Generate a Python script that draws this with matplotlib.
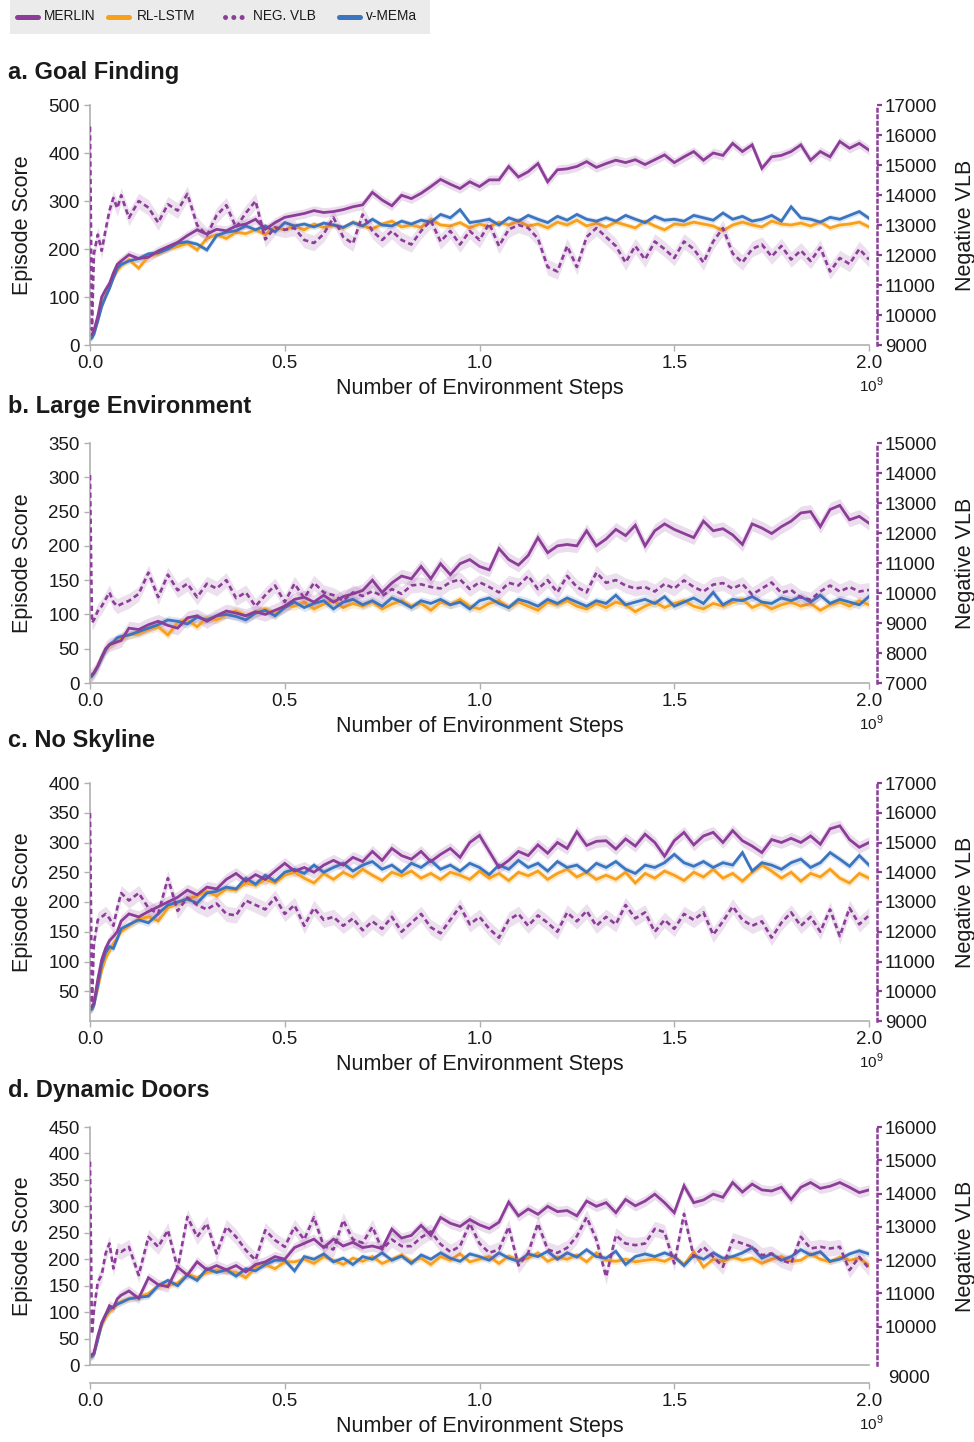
import numpy as np
import matplotlib
matplotlib.use("Agg")
import matplotlib.pyplot as plt
from matplotlib.lines import Line2D
from matplotlib.patches import Rectangle

plt.rcParams['font.family'] = ['Liberation Sans', 'DejaVu Sans']
plt.rcParams['mathtext.fontset'] = 'custom'
plt.rcParams['mathtext.rm'] = 'Liberation Sans'

# ---------------- data (x in units of 1e9 environment steps) ----------------
X_EARLY = [0.0, 0.005, 0.01, 0.02, 0.03, 0.04, 0.05, 0.06, 0.07, 0.08, 0.10]
X_LATE = [round(0.1 + 0.025 * k, 3) for k in range(1, 77)]
STEPS = X_EARLY + X_LATE

LEGEND_LABELS = ["MERLIN", "RL-LSTM", "NEG. VLB", "v-MEMa"]
TITLES = ["a. Goal Finding", "b. Large Environment", "c. No Skyline", "d. Dynamic Doors"]
XTICKS = [0.0, 0.5, 1.0, 1.5, 2.0]

# ---- a. Goal Finding ----
A_MERLIN = [20, 22, 30, 60, 100, 115, 128, 150, 168, 175, 188,
            180, 183, 196, 205, 214, 228, 240, 231, 241, 238, 248, 252,
            262, 241, 255, 266, 270, 274, 280, 276, 278, 282, 288, 292,
            318, 302, 290, 312, 305, 316, 330, 345, 335, 326, 340, 330,
            344, 344, 372, 350, 361, 378, 340, 365, 367, 372, 382, 370,
            378, 385, 380, 386, 376, 386, 396, 380, 392, 403, 385, 400,
            395, 420, 403, 417, 368, 392, 395, 403, 417, 385, 403, 392,
            424, 410, 420, 406]
A_RLLSTM = [15, 17, 25, 52, 85, 105, 120, 140, 155, 165, 178,
            160, 185, 190, 200, 205, 212, 198, 222, 230, 222, 235, 232,
            240, 230, 245, 240, 248, 240, 252, 245, 250, 244, 256, 248,
            242, 252, 258, 246, 250, 245, 262, 250, 248, 255, 244, 252,
            246, 256, 250, 258, 248, 252, 244, 256, 250, 260, 248, 254,
            246, 256, 250, 244, 258, 248, 240, 252, 250, 256, 252, 248,
            238, 250, 256, 250, 246, 258, 252, 250, 254, 248, 256, 244,
            250, 252, 256, 246]
A_VMEMA = [12, 15, 22, 50, 80, 100, 118, 140, 160, 168, 175,
           180, 190, 192, 200, 212, 215, 210, 198, 228, 235, 238, 248,
           240, 248, 236, 255, 248, 252, 246, 254, 250, 245, 255, 248,
           262, 250, 248, 258, 252, 260, 256, 272, 265, 282, 255, 258,
           262, 250, 265, 258, 270, 262, 255, 268, 260, 272, 262, 258,
           265, 258, 270, 262, 255, 268, 260, 262, 258, 270, 265, 260,
           275, 262, 268, 258, 262, 270, 258, 288, 265, 262, 256, 266,
           262, 270, 278, 264]
A_NEGVLB = [16280, 9500, 12040, 12680, 12140, 12840, 13480, 13900, 13560, 13990, 13240,
            13800, 13580, 13080, 13690, 13480, 14040, 13000, 12650,
            13320, 13660, 12920, 13400, 13800, 12520, 12920, 12840,
            12900, 12500, 12400, 12700, 13250, 12600, 12380, 13350,
            12800, 12500, 12800, 12500, 12350, 12800, 13150, 12450,
            12800, 12350, 12800, 12500, 13050, 12300, 12850, 13000,
            12900, 12550, 11600, 11450, 12300, 11600, 12600, 12900,
            12600, 12300, 11750, 12300, 11850, 12450, 12200, 11900,
            12450, 12200, 11750, 12450, 12900, 12050, 11750, 12200,
            12350, 11950, 12300, 11850, 12150, 11800, 12250, 11450,
            11900, 11700, 12200, 11850]

# ---- b. Large Environment ----
B_MERLIN = [10, 12, 15, 25, 38, 50, 56, 58, 60, 62, 80,
            78, 85, 90, 84, 80, 95, 98, 90, 98, 105, 102, 98,
            104, 100, 106, 112, 122, 125, 118, 128, 118, 126, 130, 135,
            150, 132, 146, 156, 152, 170, 152, 174, 158, 174, 180, 170,
            165, 196, 180, 172, 186, 212, 190, 200, 202, 200, 222, 200,
            210, 224, 215, 230, 200, 222, 232, 224, 218, 212, 236, 222,
            225, 216, 202, 232, 226, 218, 228, 236, 248, 250, 228, 253,
            259, 238, 243, 233]
B_RLLSTM = [10, 12, 15, 25, 38, 48, 55, 58, 62, 65, 70,
            72, 78, 82, 70, 88, 92, 82, 95, 92, 100, 105, 98,
            102, 108, 100, 112, 112, 118, 108, 115, 120, 110, 116, 112,
            118, 108, 115, 120, 112, 116, 106, 118, 114, 122, 112, 108,
            116, 120, 110, 118, 112, 106, 118, 114, 120, 112, 108, 116,
            110, 118, 114, 104, 112, 118, 110, 116, 120, 112, 108, 116,
            112, 118, 122, 110, 116, 108, 114, 118, 112, 116, 106, 114,
            118, 112, 120, 114]
B_VMEMA = [8, 10, 14, 24, 36, 48, 56, 60, 66, 68, 70,
           75, 80, 85, 92, 90, 86, 96, 92, 98, 100, 97, 92,
           102, 106, 98, 110, 118, 110, 116, 120, 108, 118, 122, 114,
           120, 112, 124, 118, 110, 120, 116, 122, 114, 118, 108, 120,
           124, 116, 110, 122, 118, 112, 122, 116, 124, 118, 112, 120,
           116, 128, 114, 118, 122, 116, 126, 112, 118, 124, 116, 132,
           114, 122, 120, 126, 118, 116, 124, 120, 126, 118, 128, 116,
           122, 118, 114, 126]
B_NEGVLB = [13930, 9010, 9100, 9400, 9560, 9790, 10020, 9700, 9560, 9630, 9740,
            9970, 10680, 9860, 10610, 10090, 10310, 9860, 10310,
            10150, 10430, 9830, 10020, 9560, 9930, 10250, 9700,
            10310, 9830, 10340, 10020, 9930, 9740, 10020, 9900,
            10060, 9900, 10130, 9970, 10250, 10290, 10200, 10150,
            10360, 10450, 10130, 10360, 10200, 10020, 10340, 10250,
            10570, 10130, 10430, 10020, 10570, 10200, 10020, 10680,
            10340, 10430, 10250, 10150, 10200, 10050, 10300, 10150,
            10420, 10200, 10050, 10280, 10330, 10150, 10300, 9950,
            10150, 10350, 10000, 10100, 9850, 9780, 10050, 10250,
            10050, 10200, 10050, 10100]

# ---- c. No Skyline ----
C_MERLIN = [22, 25, 30, 70, 103, 122, 135, 142, 150, 168, 180,
            175, 184, 192, 200, 208, 220, 212, 225, 222, 238, 248, 235,
            246, 238, 252, 265, 252, 258, 250, 262, 270, 262, 275, 268,
            285, 270, 290, 278, 272, 285, 268, 280, 290, 275, 300, 312,
            285, 258, 270, 285, 278, 296, 282, 300, 290, 318, 295, 302,
            303, 289, 306, 294, 314, 300, 277, 303, 317, 296, 311, 317,
            300, 320, 303, 294, 283, 305, 300, 307, 300, 311, 297, 323,
            328, 305, 292, 300]
C_RLLSTM = [20, 22, 28, 55, 85, 105, 118, 130, 140, 150, 160,
            172, 175, 168, 190, 198, 205, 210, 218, 210, 222, 220, 232,
            228, 238, 232, 245, 250, 240, 232, 248, 238, 250, 242, 255,
            245, 236, 250, 244, 252, 240, 248, 238, 250, 245, 238, 252,
            240, 248, 236, 250, 244, 252, 238, 248, 255, 242, 250, 238,
            245, 238, 250, 232, 248, 240, 252, 245, 236, 250, 242, 255,
            240, 248, 235, 250, 262, 252, 240, 250, 235, 248, 242, 255,
            240, 232, 248, 240]
C_VMEMA = [18, 20, 26, 60, 95, 115, 125, 122, 138, 155, 162,
           170, 165, 180, 195, 200, 205, 198, 215, 218, 225, 222, 240,
           230, 245, 235, 250, 255, 248, 262, 250, 258, 265, 252, 262,
           268, 255, 262, 250, 265, 258, 270, 255, 262, 252, 265, 258,
           246, 262, 255, 270, 258, 265, 252, 268, 258, 262, 250, 265,
           258, 268, 255, 248, 262, 258, 266, 280, 266, 260, 268, 258,
           266, 262, 283, 252, 266, 262, 255, 266, 272, 258, 266, 283,
           272, 260, 278, 262]
C_NEGVLB = [15990, 9600, 11600, 12400, 12500, 12600, 12450, 12200, 12800, 13300, 13050,
            13300, 12800, 12600, 13800, 12700, 13150, 12900, 12750,
            12950, 12600, 12550, 13050, 12900, 12750, 13150, 12600,
            12900, 12200, 12800, 12400, 12500, 12200, 12450, 12050,
            12350, 12100, 12500, 12000, 12300, 12600, 12150, 11950,
            12400, 12850, 12250, 12500, 12100, 11800, 12400, 12600,
            12200, 12550, 12300, 12000, 12650, 12350, 12700, 12200,
            12500, 12250, 12900, 12450, 12650, 12000, 12400, 12100,
            12600, 12400, 12650, 11900, 12350, 12850, 12400, 12200,
            12350, 11800, 12300, 12650, 12200, 12500, 12000, 12750,
            11850, 12800, 12250, 12550]

# ---- d. Dynamic Doors ----
D_MERLIN = [18, 20, 22, 55, 80, 95, 112, 108, 125, 132, 140,
            126, 165, 152, 148, 185, 170, 195, 180, 188, 180, 188, 176,
            190, 195, 205, 200, 222, 230, 238, 222, 238, 225, 232, 222,
            225, 220, 257, 240, 245, 264, 245, 279, 268, 262, 275, 265,
            258, 270, 308, 282, 295, 285, 300, 290, 292, 282, 310, 300,
            307, 288, 313, 301, 310, 323, 307, 288, 339, 307, 312, 323,
            317, 345, 327, 342, 331, 329, 336, 313, 336, 345, 334, 338,
            345, 336, 326, 331]
D_RLLSTM = [16, 18, 22, 50, 75, 90, 100, 108, 115, 120, 125,
            128, 135, 150, 150, 155, 172, 165, 175, 180, 178, 175, 165,
            185, 190, 182, 195, 195, 200, 192, 205, 198, 190, 202, 196,
            205, 192, 200, 208, 196, 202, 190, 205, 198, 210, 195, 200,
            205, 192, 206, 198, 202, 212, 196, 204, 200, 208, 195, 212,
            198, 196, 200, 195, 198, 200, 196, 205, 190, 214, 185, 200,
            196, 204, 198, 202, 192, 200, 205, 196, 198, 210, 200, 195,
            204, 198, 202, 188]
D_VMEMA = [15, 16, 20, 48, 78, 95, 105, 110, 115, 118, 125,
           128, 130, 150, 160, 150, 170, 160, 182, 175, 180, 168, 182,
           178, 190, 198, 198, 178, 205, 200, 210, 195, 202, 190, 205,
           200, 212, 198, 206, 192, 208, 200, 212, 202, 196, 210, 205,
           198, 212, 202, 196, 210, 205, 215, 200, 212, 204, 218, 205,
           202, 215, 190, 205, 210, 205, 212, 205, 188, 207, 200, 212,
           202, 205, 212, 222, 202, 210, 198, 205, 218, 208, 214, 196,
           200, 210, 216, 210]
D_NEGVLB = [14960, 9780, 10500, 11350, 11550, 12200, 12500, 11750, 12300, 12250, 12400,
            11550, 12700, 12400, 12900, 11750, 13300, 12700, 13100,
            12200, 13000, 12700, 12300, 12000, 12900, 12600, 12400,
            13000, 12620, 13290, 12420, 12320, 13200, 12620, 12520,
            13000, 12320, 12620, 12420, 12420, 12680, 12860, 12480,
            12250, 12420, 13100, 12500, 12220, 12320, 13000, 11840,
            12220, 13100, 12320, 12220, 12370, 12720, 13290, 12620,
            11500, 12750, 12500, 12450, 12500, 12940, 12840, 11900,
            13390, 12100, 12400, 12100, 11800, 12600, 12500, 12400,
            12150, 12200, 12000, 11900, 12700, 12350, 12400, 12350,
            12400, 11700, 12100, 11750]

# band half-widths (uncertainty shading)
SPREAD_SCORE = {"merlin": 10, "rl": 6, "vmema": 6}
SPREAD_VLB = [260, 250, 260, 230]

# ---------------- style ----------------
PURPLE = "#8B3D98"
ORANGE = "#F9A01B"
BLUE = "#3B74BF"
GRAY = "#b0b0b0"
TXT = "#1a1a1a"

W, H = 974, 1442
fig = plt.figure(figsize=(W / 100, H / 100), dpi=100)


def fx(px):
    return px / W


def fy(py):
    return 1 - py / H


# ---------------- legend bar ----------------
fig.add_artist(Rectangle((fx(10), fy(34)), fx(430) - fx(10), 34 / H,
                         transform=fig.transFigure, facecolor="#ebebeb",
                         edgecolor="none"))
leg_items = [(17, 38, 44, PURPLE, "-"), (108, 129, 137, ORANGE, "-"),
             (225, 247, 253, PURPLE, ":"), (339, 360, 366, BLUE, "-")]
for (x0, x1, xt, col, ls), lab in zip(leg_items, LEGEND_LABELS):
    if ls == "-":
        ln = Line2D([fx(x0), fx(x1)], [fy(16.5), fy(16.5)], transform=fig.transFigure,
                    color=col, lw=3.6, solid_capstyle="round")
    else:
        ln = Line2D([fx(x0), fx(x1)], [fy(16.5), fy(16.5)], transform=fig.transFigure,
                    color=col, lw=3.6, linestyle=(0, (0.01, 1.65)), dash_capstyle="round")
    fig.add_artist(ln)
    fig.text(fx(xt), fy(16.5), lab, fontsize=9.8, color=TXT, va="center", ha="left")

# ---------------- panels ----------------
panels = [
    dict(top=105, bottom=345, ylim=(0, 500), yticks=[0, 100, 200, 300, 400, 500],
         y2lim=(9000, 17000), y2ticks=list(range(9000, 17001, 1000)),
         data=(A_MERLIN, A_RLLSTM, A_VMEMA, A_NEGVLB), title_y=72, offset=0),
    dict(top=443, bottom=683, ylim=(0, 350), yticks=[0, 50, 100, 150, 200, 250, 300, 350],
         y2lim=(7000, 15000), y2ticks=list(range(7000, 15001, 1000)),
         data=(B_MERLIN, B_RLLSTM, B_VMEMA, B_NEGVLB), title_y=407, offset=0),
    dict(top=783, bottom=1021, ylim=(0, 400), yticks=[50, 100, 150, 200, 250, 300, 350, 400],
         y2lim=(9000, 17000), y2ticks=list(range(9000, 17001, 1000)),
         data=(C_MERLIN, C_RLLSTM, C_VMEMA, C_NEGVLB), title_y=741, offset=0),
    dict(top=1127, bottom=1365, ylim=(0, 450), yticks=[0, 50, 100, 150, 200, 250, 300, 350, 400, 450],
         y2lim=(8850, 15970), y2ticks=list(range(10000, 16001, 1000)),
         data=(D_MERLIN, D_RLLSTM, D_VMEMA, D_NEGVLB), title_y=1091, offset=18),
]

x = np.array(STEPS)
for i, p in enumerate(panels):
    merlin, rl, vm, vlb = [np.array(d, dtype=float) for d in p["data"]]
    ax = fig.add_axes([fx(90), fy(p["bottom"]), fx(869) - fx(90), (p["bottom"] - p["top"]) / H])
    ax2 = ax.twinx()
    ax.set_zorder(1)
    ax2.set_zorder(2)
    ax.patch.set_visible(False)

    s_m, s_r, s_v = SPREAD_SCORE["merlin"], SPREAD_SCORE["rl"], SPREAD_SCORE["vmema"]
    ax.fill_between(x, rl - s_r, rl + s_r, color=ORANGE, alpha=0.22, lw=0)
    ax.fill_between(x, vm - s_v, vm + s_v, color=BLUE, alpha=0.18, lw=0)
    ax.fill_between(x, merlin - s_m, merlin + s_m, color=PURPLE, alpha=0.18, lw=0)
    ax.plot(x, rl, color=ORANGE, lw=2.0, solid_joinstyle="miter")
    ax.plot(x, vm, color=BLUE, lw=2.0, solid_joinstyle="miter")
    ax.plot(x, merlin, color=PURPLE, lw=2.0, solid_joinstyle="miter")

    sv = SPREAD_VLB[i]
    ax2.fill_between(x, vlb - sv, vlb + sv, color=PURPLE, alpha=0.16, lw=0)
    ax2.plot(x, vlb, color=PURPLE, lw=1.9, linestyle=(0, (2.0, 1.3)))

    ax.set_xlim(0, 2.0)
    ax.set_ylim(*p["ylim"])
    ax2.set_ylim(*p["y2lim"])
    ax.set_yticks(p["yticks"])
    ax2.set_yticks(p["y2ticks"])
    ax.set_xticks(XTICKS)
    ax.set_xticklabels([f"{t:.1f}" for t in XTICKS])

    for sp in ["top", "right"]:
        ax.spines[sp].set_visible(False)
    for sp in ["top", "left", "bottom"]:
        ax2.spines[sp].set_visible(False)
    ax.spines["left"].set_color(GRAY)
    ax.spines["bottom"].set_color(GRAY)
    ax.spines["left"].set_linewidth(1.2)
    ax.spines["bottom"].set_linewidth(1.2)
    ax2.spines["right"].set_color(PURPLE)
    ax2.spines["right"].set_linewidth(1.8)
    ax2.spines["right"].set_linestyle((0, (1.0, 1.6)))
    ax2.spines["right"].set_position(("outward", 6))

    if p["offset"]:
        ax.spines["bottom"].set_position(("outward", p["offset"] * 0.72))
        ax.axhline(0, color=GRAY, lw=1.2, clip_on=False, zorder=0.5)

    ax.tick_params(axis="both", which="major", direction="out", length=4.5, width=1.0,
                   color=GRAY, labelsize=13.5, labelcolor=TXT, pad=3)
    ax2.tick_params(axis="y", direction="out", length=3.5, width=1.6, color=PURPLE,
                    labelsize=13.5, labelcolor=TXT, pad=2)

    ax.set_ylabel("Episode Score", fontsize=15.5, color=TXT, labelpad=11)
    ax2.set_ylabel("Negative VLB", fontsize=15.5, color=TXT, labelpad=13)
    ax.set_xlabel("Number of Environment Steps", fontsize=15.5, color=TXT, labelpad=4)

    fig.text(fx(8), fy(p["title_y"]), TITLES[i], fontsize=17, fontweight="bold",
             color=TXT, va="center", ha="left")
    xb = p["bottom"] + p["offset"]
    fig.text(fx(871), fy(xb + 40), r"10$^{9}$", fontsize=11, color=TXT,
             ha="center", va="center")
    if p["offset"]:
        ax2.annotate("9000", xy=(1.0, 9000), xycoords=("axes fraction", "data"),
                     xytext=(14, -13), textcoords="offset points", fontsize=13.5,
                     color=TXT, ha="left", va="center", annotation_clip=False)

fig.savefig("out.png", dpi=100)
